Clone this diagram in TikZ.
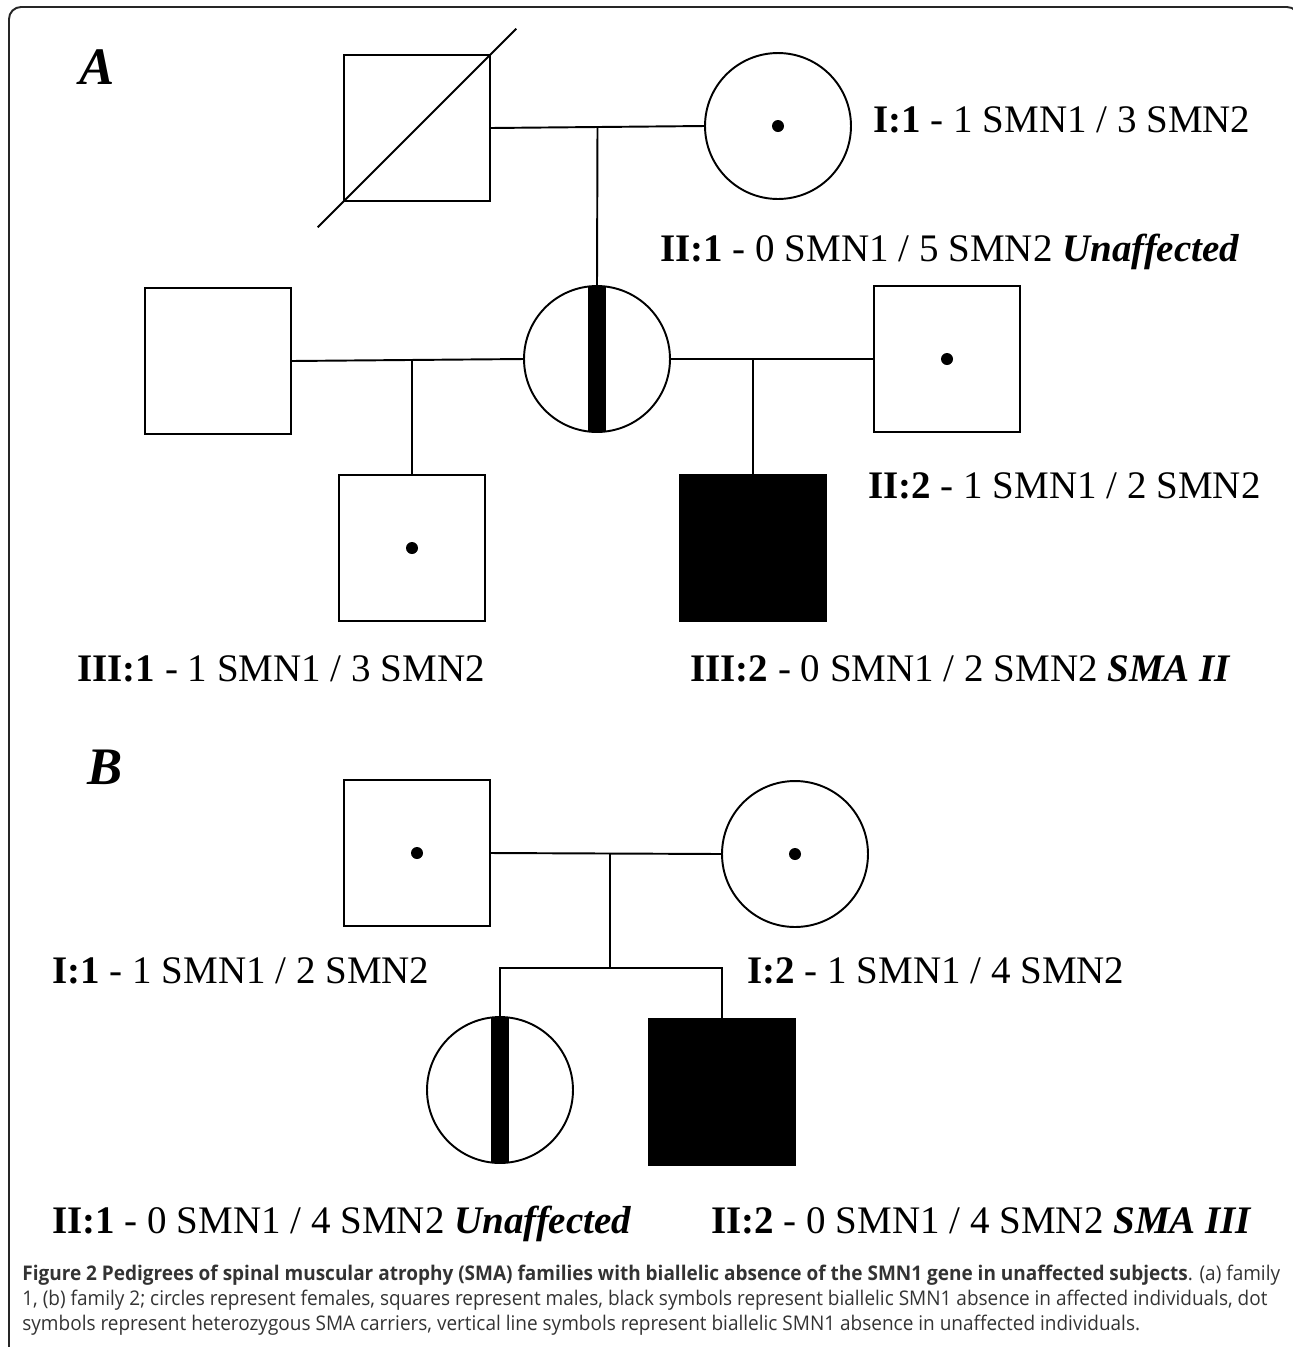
\documentclass[tikz,border=0pt]{standalone}
\usepackage{fontspec}
\setmainfont{Liberation Serif}
\newfontfamily\capfont[FakeStretch=0.94]{Open Sans}
\usetikzlibrary{calc}

\tikzset{
  person/.style={draw,line width=1.1pt,inner sep=0pt,outer sep=0pt,minimum size=2.92cm},
  male/.style={person,rectangle},
  female/.style={person,circle},
  affected/.style={fill=black},
  carrier/.style={path picture={\fill (path picture bounding box.center) circle (0.12cm);}},
  vbar/.style={path picture={\fill ([xshift=-0.18cm]path picture bounding box.north) rectangle ([xshift=0.18cm]path picture bounding box.south);}},
  link/.style={line width=1.1pt},
  lbl/.style={font=\fontsize{22.2}{26}\selectfont,anchor=base west,inner sep=0pt},
  panel/.style={font=\fontsize{30}{32}\selectfont\bfseries\itshape,anchor=base west,inner sep=0pt},
  captxt/.style={font=\capfont\fontsize{11.5}{14}\selectfont,anchor=base west,inner sep=0pt,color=kText}
}

\begin{document}
\begin{tikzpicture}[x=0.02cm,y=-0.02cm]
  % colors
  \definecolor{kText}{rgb}{0.2,0.2,0.2}
  \definecolor{kFrame}{rgb}{0.15,0.15,0.15}
  \useasboundingbox (0,0) rectangle (1293,1347);
  % frame
  \draw[line width=1.1pt,color=kFrame,rounded corners=0.24cm] (9,1360) -- (9,7) -- (1299,7) -- (1299,1360);
  % family 1
  \node[panel] (pa) at (79,84) {A};
  \node[male] (I1) at (417,128) {};
  \draw[link] ($(I1.south west)!-0.18!(I1.north east)$) -- ($(I1.south west)!1.18!(I1.north east)$);
  \node[female,carrier] (I2) at (778,126) {};
  \node[female,vbar] (II1) at (597,359) {};
  \node[male] (IIm) at (218,361) {};
  \node[male,carrier] (II2) at (947,359) {};
  \node[male,carrier] (III1) at (412,548) {};
  \node[male,affected] (III2) at (753,548) {};
  \draw[link] (I1.east) -- coordinate (mA) (I2.west);
  \draw[link] (mA) -- (II1.north);
  \draw[link] (IIm.east) -- (II1.west);
  \draw[link] (III1.north) -- (III1.north |- IIm.east);
  \draw[link] (II1.east) -- (II2.west);
  \draw[link] (III2.north) -- (III2.north |- II2.west);
  \node[lbl] (tI2) at (873,132) {\textbf{I:1} - 1 SMN1 / 3 SMN2};
  \node[lbl] (tII1) at (660,261) {\textbf{II:1} - 0 SMN1 / 5 SMN2 \textbf{\textit{Unaffected}}};
  \node[lbl] (tII2) at (868,498) {\textbf{II:2} - 1 SMN1 / 2 SMN2};
  \node[lbl] (tIII1) at (77,681) {\textbf{III:1} - 1 SMN1 / 3 SMN2};
  \node[lbl] (tIII2) at (690,681) {\textbf{III:2} - 0 SMN1 / 2 SMN2 \textbf{\textit{SMA II}}};
  % family 2
  \node[panel] (pb) at (87,784) {B};
  \node[male,carrier] (BI1) at (417,853) {};
  \node[female,carrier] (BI2) at (795,854) {};
  \node[female,vbar] (BII1) at (500,1090) {};
  \node[male,affected] (BII2) at (722,1092) {};
  \coordinate (sB) at (610,968);
  \draw[link] (BI1.east) -- (BI2.west);
  \draw[link] (sB |- BI1.east) -- (sB);
  \draw[link] (BII1.north) |- (sB) -| (BII2.north);
  \node[lbl] (tBI1) at (52,983) {\textbf{I:1} - 1 SMN1 / 2 SMN2};
  \node[lbl] (tBI2) at (747,983) {\textbf{I:2} - 1 SMN1 / 4 SMN2};
  \node[lbl] (tBII1) at (52,1233) {\textbf{II:1} - 0 SMN1 / 4 SMN2 \textbf{\textit{Unaffected}}};
  \node[lbl] (tBII2) at (711,1233) {\textbf{II:2} - 0 SMN1 / 4 SMN2 \textbf{\textit{SMA III}}};
  % caption
  \node[captxt] (cap1) at (22,1280) {\textbf{Figure 2 Pedigrees of spinal muscular atrophy (SMA) families with biallelic absence of the SMN1 gene in unaffected subjects}. (a) family};
  \node[captxt] (cap2) at (22,1305) {1, (b) family 2; circles represent females, squares represent males, black symbols represent biallelic SMN1 absence in affected individuals, dot};
  \node[captxt] (cap3) at (22,1330) {symbols represent heterozygous SMA carriers, vertical line symbols represent biallelic SMN1 absence in unaffected individuals.};
\end{tikzpicture}
\end{document}
